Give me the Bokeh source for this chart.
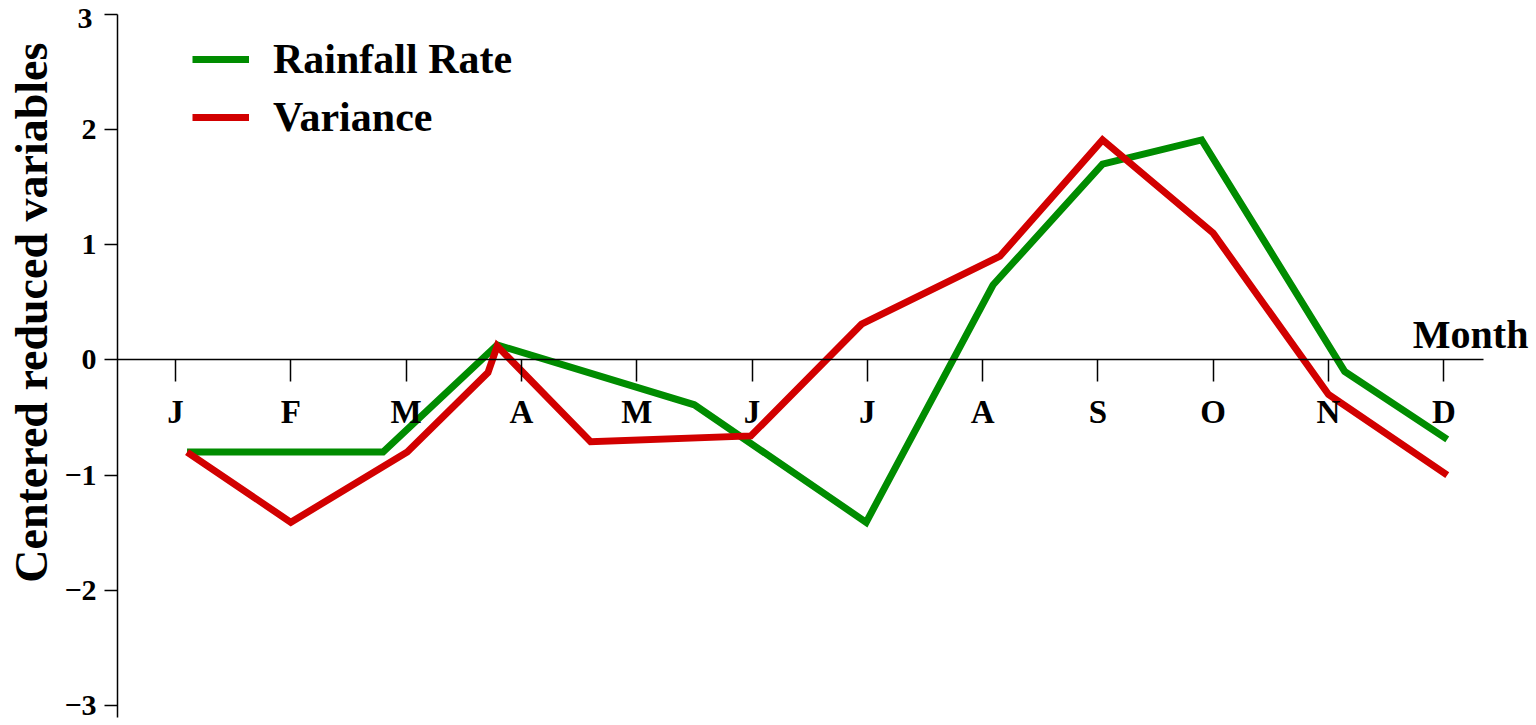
import math
from bokeh.plotting import figure
from bokeh.models import Range1d, FixedTicker, Legend, LegendItem, Label
from bokeh.embed import file_html
from bokeh.resources import INLINE

# ---- data ----
month_labels = ["J", "F", "M", "A", "M", "J", "J", "A", "S", "O", "N", "D"]
month_ticks = [1, 2, 3, 4, 5, 6, 7, 8, 9, 10, 11, 12]

rain_x = [1.10, 2.80, 3.79, 5.50, 6.99, 8.09, 9.04, 9.90, 11.14, 12.03]
rain_y = [-0.80, -0.80, 0.13, -0.39, -1.41, 0.65, 1.70, 1.91, -0.10, -0.69]

var_x = [1.10, 2.00, 3.01, 3.71, 3.79, 4.60, 5.99, 6.95, 8.15, 9.04, 10.00, 11.00, 12.03]
var_y = [-0.80, -1.41, -0.80, -0.11, 0.12, -0.71, -0.66, 0.31, 0.90, 1.91, 1.10, -0.30, -1.00]

y_ticks = [-3, -2, -1, 0, 1, 2, 3]
y_tick_labels = ["\u22123", "\u22122", "\u22121", "0", "1", "2", ""]
top_tick_label = "3"

GREEN = "#008c00"
RED = "#d20000"
FONT = "Liberation Serif"

AX_X = 0.497          # where the y axis crosses (month units)
X_END = 12.34         # end of the drawn x axis line
p = figure(width=1536, height=725, output_backend="svg", toolbar_location=None,
           x_range=Range1d(-0.518, 12.804), y_range=Range1d(-3.174, 3.12),
           min_border_left=0, min_border_right=0, min_border_top=0, min_border_bottom=0)
p.outline_line_color = None
p.grid.visible = False
p.background_fill_color = "white"
p.border_fill_color = "white"

r_rain = p.line(rain_x, rain_y, line_color=GREEN, line_width=7, line_join="miter")
r_var = p.line(var_x, var_y, line_color=RED, line_width=7, line_join="miter")

# x axis through zero
xa = p.xaxis[0]
xa.fixed_location = 0
xa.bounds = (AX_X, X_END)
xa.ticker = FixedTicker(ticks=month_ticks)
xa.major_label_overrides = {t: l for t, l in zip(month_ticks, month_labels)}
xa.major_tick_out = 22
xa.major_tick_in = 0
xa.minor_tick_out = 0
xa.minor_tick_in = 0
xa.axis_line_width = 1.5
xa.major_tick_line_width = 1.5
xa.major_label_text_font = FONT
xa.major_label_text_font_style = "bold"
xa.major_label_text_font_size = "33px"
xa.major_label_text_color = "black"
xa.major_label_standoff = 12

# y axis
ya = p.yaxis[0]
ya.fixed_location = AX_X
ya.bounds = (-3.104, 3.0)
ya.ticker = FixedTicker(ticks=y_ticks)
ya.major_label_overrides = {t: l for t, l in zip(y_ticks, y_tick_labels)}
ya.major_tick_out = 13
ya.major_tick_in = 0
ya.minor_tick_out = 0
ya.minor_tick_in = 0
ya.axis_line_width = 1.5
ya.major_tick_line_width = 1.5
ya.major_label_text_font = FONT
ya.major_label_text_font_style = "bold"
ya.major_label_text_font_size = "30px"
ya.major_label_text_color = "black"
ya.major_label_standoff = 8

# top tick label sits just below its tick, as in the reference
p.add_layout(Label(x=AX_X, y=3, text=top_tick_label, text_align="right", text_baseline="top",
                   x_offset=-25, y_offset=5, text_font=FONT, text_font_style="bold",
                   text_font_size="30px", text_color="black"))

# y axis title (placed like the reference, above centre)
p.add_layout(Label(x=AX_X, y=0.41, text="Centered reduced variables", angle=math.pi / 2,
                   text_align="center", text_baseline="middle", x_offset=-86,
                   text_font=FONT, text_font_style="bold", text_font_size="46px",
                   text_color="black"))

month_lbl = Label(x=12.734, y=0, text="Month", text_align="right", text_baseline="alphabetic",
                  y_offset=25, text_font=FONT, text_font_style="bold",
                  text_font_size="40px", text_color="black")
p.add_layout(month_lbl)

legend = Legend(items=[LegendItem(label="Rainfall Rate", renderers=[r_rain]),
                       LegendItem(label="Variance", renderers=[r_var])],
                location=(192, 584))
legend.label_text_font = FONT
legend.label_text_font_style = "bold"
legend.label_text_font_size = "42px"
legend.label_text_color = "black"
legend.glyph_width = 57
legend.glyph_height = 40
legend.label_height = 40
legend.label_standoff = 24
legend.spacing = 10
legend.padding = 0
legend.margin = 0
legend.border_line_color = None
legend.background_fill_alpha = 0
p.add_layout(legend)

open("out.html", "w").write(file_html(p, INLINE))
